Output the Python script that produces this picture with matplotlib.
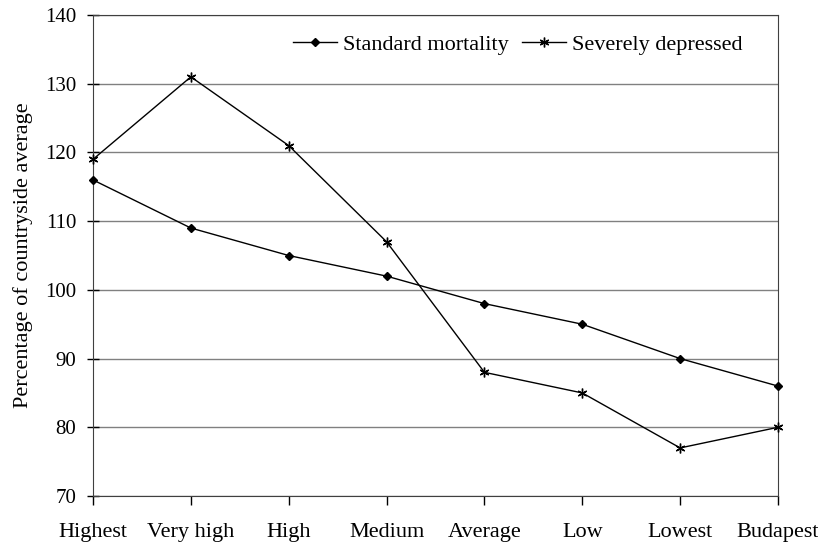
import matplotlib.pyplot as plt
import numpy as np

plt.rcParams['font.family'] = ['Liberation Serif', 'DejaVu Serif']

categories = ["Highest", "Very high", "High", "Medium", "Average", "Low", "Lowest", "Budapest"]
standard_mortality = [116, 109, 105, 102, 98, 95, 90, 86]
severely_depressed = [119, 131, 121, 107, 88, 85, 77, 80]

x = np.arange(len(categories))

fig = plt.figure(figsize=(8.18, 5.44), dpi=100)
ax = fig.add_axes([0.1137, 0.0882, 0.8374, 0.8842])

ax.plot(x, standard_mortality, color='black', lw=1, marker='D', markersize=4,
        label="Standard mortality", clip_on=False, zorder=3)
ax.plot(x, severely_depressed, color='black', lw=1, marker=(6, 2, 0), markersize=7,
        markeredgewidth=1, label="Severely depressed", clip_on=False, zorder=3)

ax.set_xlim(0, 7)
ax.set_ylim(70, 140)
ax.set_yticks(np.arange(70, 141, 10))
ax.set_xticks(x)
ax.set_xticklabels(categories)
ax.tick_params(axis='x', labelsize=16, direction='out', length=6.5, width=1, pad=13)
ax.tick_params(axis='y', labelsize=15, direction='inout', length=8, width=1, pad=8)
ax.yaxis.grid(True, color='#808080', lw=1)
ax.set_axisbelow(True)
for s in ax.spines.values():
    s.set_color('#404040')

ax.set_ylabel("Percentage of countryside average", fontsize=16)
ax.yaxis.set_label_coords(-0.088, 0.5)

ax.legend(loc='center', bbox_to_anchor=(0.62, 0.938), ncol=2, frameon=False,
          fontsize=16, handlelength=2.0, handletextpad=0.25, columnspacing=0.6)

fig.savefig("out.png", dpi=100)
